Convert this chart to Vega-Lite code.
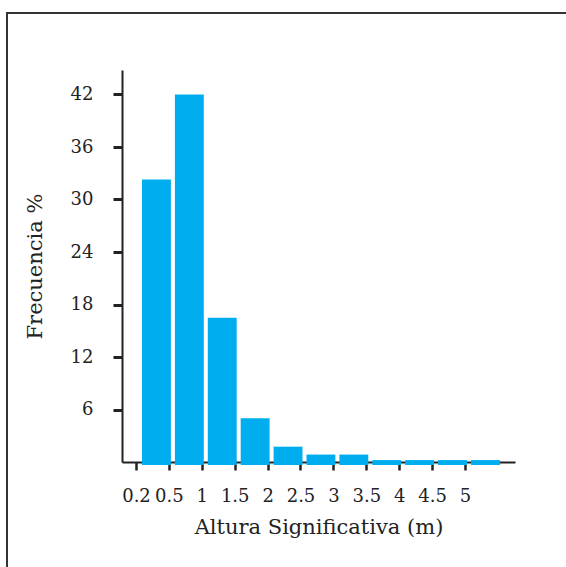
{
  "$schema": "https://vega.github.io/schema/vega-lite/v6.json",
  "width": 570,
  "height": 565,
  "autosize": "none",
  "padding": {"left": 7, "top": 13, "right": 0, "bottom": 0},
  "background": "white",
  "config": {
    "view": {"stroke": "#333333", "strokeWidth": 2},
    "font": "DejaVu Serif"
  },
  "data": {
    "values": [
      {"lo": 0, "hi": 1, "desde": 0.2, "hasta": 0.5, "frecuencia": 32.3},
      {"lo": 1, "hi": 2, "desde": 0.5, "hasta": 1.0, "frecuencia": 42.0},
      {"lo": 2, "hi": 3, "desde": 1.0, "hasta": 1.5, "frecuencia": 16.5},
      {"lo": 3, "hi": 4, "desde": 1.5, "hasta": 2.0, "frecuencia": 5.0},
      {"lo": 4, "hi": 5, "desde": 2.0, "hasta": 2.5, "frecuencia": 1.75},
      {"lo": 5, "hi": 6, "desde": 2.5, "hasta": 3.0, "frecuencia": 0.85},
      {"lo": 6, "hi": 7, "desde": 3.0, "hasta": 3.5, "frecuencia": 0.85},
      {"lo": 7, "hi": 8, "desde": 3.5, "hasta": 4.0, "frecuencia": 0.22},
      {"lo": 8, "hi": 9, "desde": 4.0, "hasta": 4.5, "frecuencia": 0.22},
      {"lo": 9, "hi": 10, "desde": 4.5, "hasta": 5.0, "frecuencia": 0.22},
      {"lo": 10, "hi": 11, "desde": 5.0, "hasta": 5.5, "frecuencia": 0.22}
    ]
  },
  "mark": {"type": "bar", "color": "#00aeef", "xOffset": 6, "x2Offset": 2, "y2Offset": 3},
  "encoding": {
    "x": {
      "field": "lo",
      "type": "quantitative",
      "scale": {"domain": [-0.4255, 11.52], "range": [115, 508], "nice": false, "zero": false},
      "axis": {
        "values": [0, 1, 2, 3, 4, 5, 6, 7, 8, 9, 10],
        "labelExpr": "['0.2','0.5','1','1.5','2','2.5','3','3.5','4','4.5','5'][datum.value]",
        "title": "Altura Significativa (m)",
        "offset": -116,
        "grid": false,
        "domainColor": "#222222",
        "domainWidth": 2,
        "tickColor": "#222222",
        "tickWidth": 2.5,
        "tickSize": 8,
        "labelPadding": 17,
        "labelOverlap": false,
        "labelFlush": false,
        "labelFont": "DejaVu Serif",
        "labelFontSize": 18,
        "labelColor": "#222222",
        "titleFont": "DejaVu Serif",
        "titleFontSize": 21,
        "titleFontWeight": "normal",
        "titleColor": "#222222",
        "titlePadding": 11
      }
    },
    "x2": {"field": "hi"},
    "y": {
      "field": "frecuencia",
      "type": "quantitative",
      "scale": {"domain": [0, 44.8], "range": [449, 57], "nice": false},
      "axis": {
        "values": [6, 12, 18, 24, 30, 36, 42],
        "title": "Frecuencia %",
        "offset": -115,
        "grid": false,
        "domainColor": "#222222",
        "domainWidth": 2,
        "tickColor": "#222222",
        "tickWidth": 3,
        "tickSize": 9,
        "labelPadding": 20,
        "labelOverlap": false,
        "labelFont": "DejaVu Serif",
        "labelFontSize": 18,
        "labelColor": "#222222",
        "titleFont": "DejaVu Serif",
        "titleFontSize": 21,
        "titleFontWeight": "normal",
        "titleColor": "#222222",
        "titlePadding": 25
      }
    },
    "y2": {"datum": 0}
  }
}
